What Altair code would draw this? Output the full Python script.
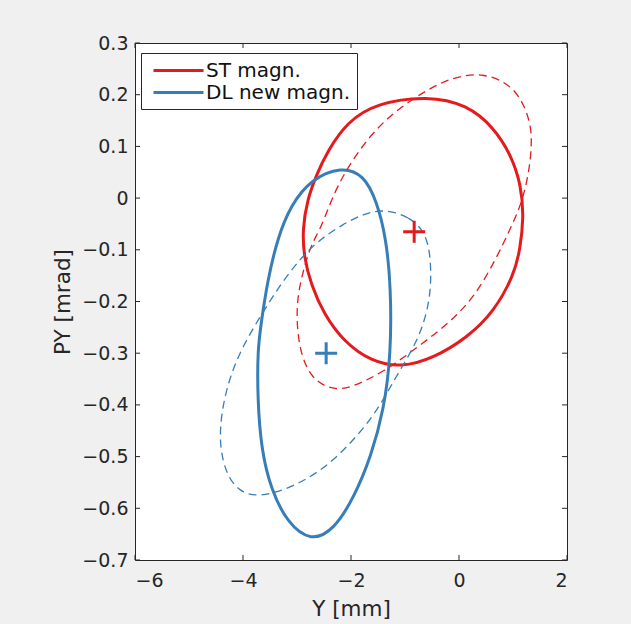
import altair as alt
import pandas as pd

# Phase-space ellipses (Y in mm, PY in mrad) for the two magnet configurations
st_solid_y = [-0.59, 0.15, 0.65, 0.96, 1.15, 1.20, 1.13, 1.02, 0.65, 0.15, -0.46, -1.07,
              -1.63, -2.13, -2.50, -2.74, -2.87, -2.90, -2.81, -2.64, -2.44, -2.07, -1.52]
st_solid_py = [0.198, 0.181, 0.136, 0.084, 0.026, -0.038, -0.100, -0.148, -0.220, -0.270, -0.309, -0.328,
               -0.316, -0.278, -0.225, -0.167, -0.115, -0.061, -0.003, 0.045, 0.090, 0.148, 0.184]

st_dashed_y = [0.46, 1.07, 1.33, 1.35, 1.29, 1.15, 0.96, 0.70, 0.28, -0.22, -0.78, -1.39, -2.00, -2.31,
               -2.68, -2.92, -3.01, -2.99, -2.87, -2.74, -2.55, -2.31, -2.00, -1.63, -1.20, -0.65, -0.15]
st_dashed_py = [0.244, 0.214, 0.148, 0.103, 0.045, -0.013, -0.057, -0.115, -0.193, -0.245, -0.289, -0.336,
                -0.367, -0.371, -0.355, -0.309, -0.245, -0.187, -0.135, -0.090, -0.057, 0.012, 0.070,
                0.123, 0.167, 0.206, 0.233]

dl_solid_y = [-2.18, -1.76, -1.52, -1.35, -1.26, -1.26, -1.39, -1.63, -1.94, -2.31, -2.74, -3.18,
              -3.48, -3.66, -3.73, -3.73, -3.66, -3.55, -3.36, -3.11, -2.74]
dl_solid_py = [0.061, 0.045, -0.007, -0.077, -0.173, -0.303, -0.409, -0.500, -0.578, -0.641, -0.665, -0.628,
               -0.564, -0.487, -0.390, -0.293, -0.239, -0.162, -0.077, -0.013, 0.036]

dl_dashed_y = [-1.35, -0.92, -0.61, -0.52, -0.52, -0.61, -0.79, -1.11, -1.35, -1.61, -1.98, -2.46, -3.09,
               -3.70, -4.07, -4.31, -4.44, -4.40, -4.25, -4.01, -3.64, -3.33, -2.96, -2.59, -2.16, -1.72]
dl_dashed_py = [-0.022, -0.036, -0.067, -0.119, -0.177, -0.229, -0.280, -0.336, -0.380, -0.425, -0.471,
                -0.521, -0.560, -0.579, -0.568, -0.535, -0.477, -0.413, -0.347, -0.287, -0.222, -0.171,
                -0.119, -0.081, -0.051, -0.028]

# Beam centroids
centre_series = ["ST magn.", "DL new magn."]
centre_y = [-0.83, -2.46]
centre_py = [-0.065, -0.300]

series_names = ["ST magn.", "DL new magn."]
series_colors = ["#e41a1c", "#377eb8"]

x_ticks = [-6, -4, -2, 0, 2]
y_ticks = [-0.7, -0.6, -0.5, -0.4, -0.3, -0.2, -0.1, 0.0, 0.1, 0.2, 0.3]

W, H = 432, 517


def curve(name, style, xs, ys):
    return pd.DataFrame({"series": name, "style": style, "curve": name + " " + style,
                         "idx": range(len(xs)), "Y": xs, "PY": ys})


ellipses = pd.concat([
    curve("ST magn.", "solid", st_solid_y, st_solid_py),
    curve("DL new magn.", "solid", dl_solid_y, dl_solid_py),
    curve("ST magn.", "dashed", st_dashed_y, st_dashed_py),
    curve("DL new magn.", "dashed", dl_dashed_y, dl_dashed_py),
], ignore_index=True)

centres = pd.DataFrame({"series": centre_series, "Y": centre_y, "PY": centre_py})
xt = pd.DataFrame({"Y": x_ticks})
yt = pd.DataFrame({"PY": y_ticks})

xscale = alt.Scale(domain=[-6, 2], nice=False, zero=False)
yscale = alt.Scale(domain=[-0.7, 0.3], nice=False, zero=False)
cscale = alt.Scale(domain=series_names, range=series_colors)

FONT = "DejaVu Sans"
TXT = "#262626"

x_axis = alt.Axis(values=x_ticks, title="Y [mm]", grid=False, domain=False, ticks=False,
                  labelPadding=11, labelFontSize=19, titleFontSize=21.5, titleFontWeight="normal",
                  titleX=W / 2, titleY=55, titleBaseline="alphabetic", titleAlign="center")
y_axis = alt.Axis(values=y_ticks, title="PY [mrad]", grid=False, domain=False, ticks=False,
                  labelPadding=7, labelFontSize=19, titleFontSize=21.5, titleFontWeight="normal",
                  labelExpr="format(datum.value, '.1~f')",
                  titleX=-66, titleY=H / 2, titleBaseline="alphabetic", titleAlign="center",
                  titleAngle=-90)

X = alt.X("Y:Q", scale=xscale, axis=x_axis)
Y = alt.Y("PY:Q", scale=yscale, axis=y_axis)

base = alt.Chart(ellipses)

solid = base.transform_filter(alt.datum.style == "solid").mark_line(
    interpolate="basis-closed", strokeWidth=3
).encode(
    x=X, y=Y,
    color=alt.Color("series:N", scale=cscale,
                    legend=alt.Legend(title=None, orient="none", legendX=6, legendY=10)),
    detail="curve:N",
    order="idx:Q",
)

dashed = base.transform_filter(alt.datum.style == "dashed").mark_line(
    interpolate="basis-closed", strokeWidth=1.3, strokeDash=[8, 5]
).encode(
    x=X, y=Y,
    color=alt.Color("series:N", scale=cscale, legend=None),
    detail="curve:N",
    order="idx:Q",
)

markers = alt.Chart(centres).mark_point(
    shape="M-1,0L1,0M0,-1L0,1", size=484, filled=False, strokeWidth=3, opacity=1
).encode(
    x=X, y=Y,
    color=alt.Color("series:N", scale=cscale, legend=None),
)

# inward tick marks on all four sides of the box
tick_bottom = alt.Chart(xt).mark_rule(color=TXT, strokeWidth=1).encode(
    x=X, y=alt.value(H), y2=alt.value(H - 5))
tick_top = alt.Chart(xt).mark_rule(color=TXT, strokeWidth=1).encode(
    x=X, y=alt.value(0), y2=alt.value(5))
tick_left = alt.Chart(yt).mark_rule(color=TXT, strokeWidth=1).encode(
    y=Y, x=alt.value(0), x2=alt.value(5))
tick_right = alt.Chart(yt).mark_rule(color=TXT, strokeWidth=1).encode(
    y=Y, x=alt.value(W), x2=alt.value(W - 5))

chart = alt.layer(
    solid, dashed, markers, tick_bottom, tick_top, tick_left, tick_right
).properties(
    width=W, height=H,
    autosize=alt.AutoSizeParams(type="none"),
    padding={"left": 135, "top": 43, "right": 64, "bottom": 64},
    background="#f0f0f0",
).configure_view(
    fill="white", stroke=TXT, strokeWidth=1
).configure_axis(
    labelFont=FONT, titleFont=FONT, labelColor=TXT, titleColor=TXT
).configure_legend(
    labelFont=FONT, labelFontSize=20, labelColor="#111111", labelOffset=16,
    symbolType="M-2.5,0L2.5,0", symbolSize=400, symbolStrokeWidth=3, symbolDash=[1, 0],
    symbolOffset=20, padding=6, rowPadding=0, strokeColor="#262626", fillColor="white",
    cornerRadius=0,
)

chart.save("out.html", embed_options={"renderer": "svg", "actions": False})
